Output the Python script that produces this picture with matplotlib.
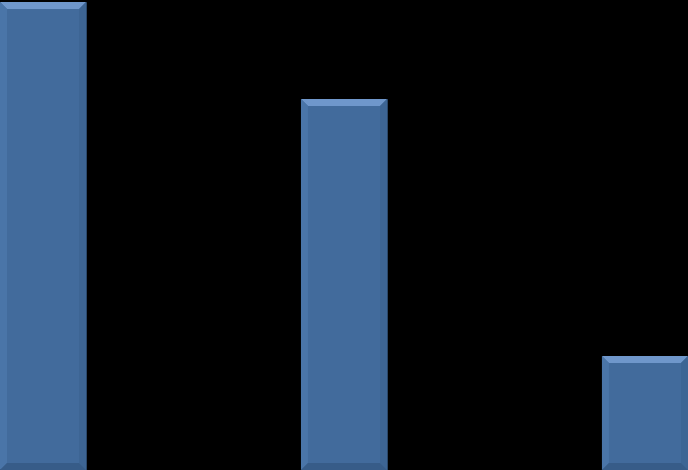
import matplotlib
matplotlib.use("Agg")
import matplotlib.pyplot as plt
from matplotlib.patches import Polygon

categories = ["A", "B", "C"]
values = [468, 371, 114]

fig = plt.figure(figsize=(6.88, 4.70), dpi=100)
fig.patch.set_facecolor("black")
ax = fig.add_axes([0, 0, 1, 1])
ax.set_facecolor("black")

width = 0.286
xs = list(range(len(categories)))
bars = ax.bar(xs, values, width=width, color="#426B9C", edgecolor="#2C4A6E", linewidth=0.6)
ax.set_xlim(-width / 2, len(categories) - 1 + width / 2)
ax.set_ylim(0, 470)
ax.axis("off")

# bevel effect, size given in pixels
px_x = (ax.get_xlim()[1] - ax.get_xlim()[0]) / 688
px_y = (ax.get_ylim()[1] - ax.get_ylim()[0]) / 470
b = 7
bx, by = b * px_x, b * px_y
for r in bars:
    x0, y0 = r.get_x(), r.get_y()
    x1, y1 = x0 + r.get_width(), y0 + r.get_height()
    faces = [
        ([(x0, y1), (x1, y1), (x1 - bx, y1 - by), (x0 + bx, y1 - by)], "#6F97CB"),
        ([(x0, y0), (x0, y1), (x0 + bx, y1 - by), (x0 + bx, y0 + by)], "#4A75A8"),
        ([(x1, y0), (x1, y1), (x1 - bx, y1 - by), (x1 - bx, y0 + by)], "#3D6594"),
        ([(x0, y0), (x1, y0), (x1 - bx, y0 + by), (x0 + bx, y0 + by)], "#375C88"),
    ]
    for pts, c in faces:
        ax.add_patch(Polygon(pts, closed=True, facecolor=c, edgecolor="none"))

fig.savefig("out.png", dpi=100, facecolor="black")
